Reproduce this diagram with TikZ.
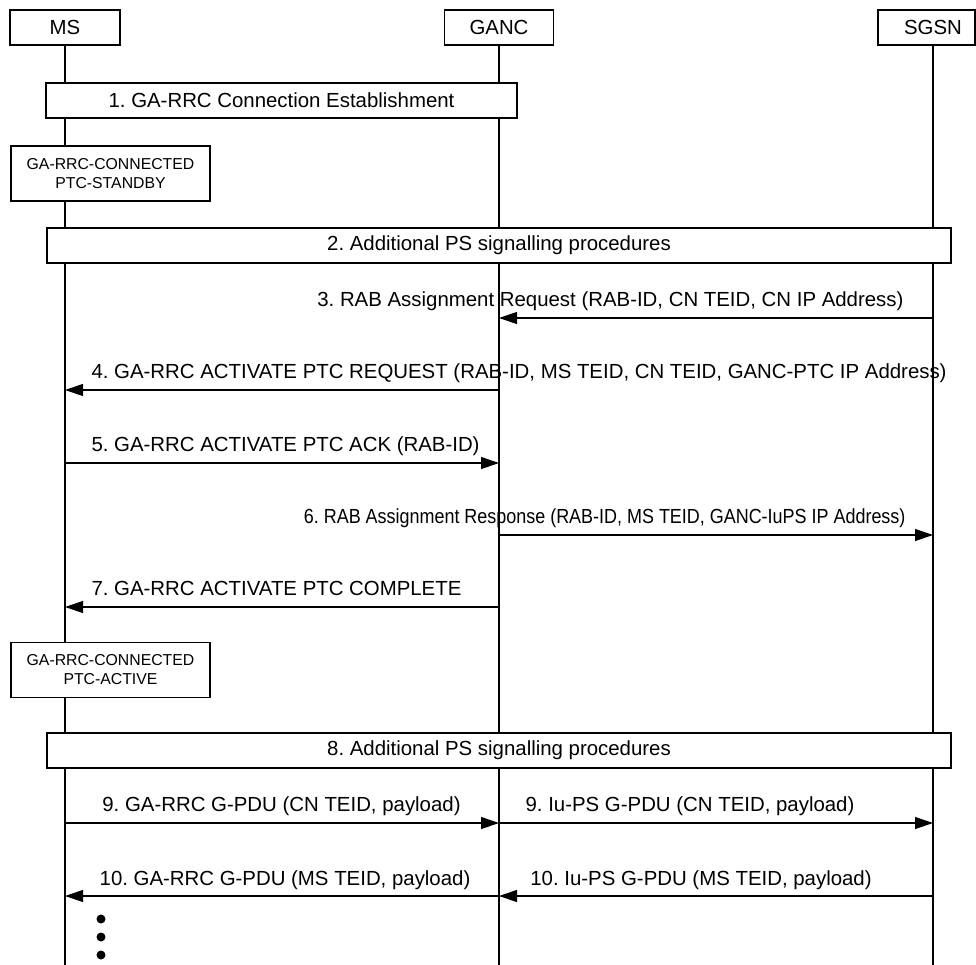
\documentclass[tikz,border=0pt]{standalone}
\usepackage{graphicx}
\usepackage{fontspec}
\setmainfont{Liberation Sans}
\usetikzlibrary{arrows.meta}

\begin{document}
\frenchspacing
\begin{tikzpicture}[x=1pt, y=-1pt, line width=1.1pt,
    every node/.style={font=\fontsize{20.4}{23}\selectfont, inner sep=0pt},
    entity/.style={draw, fill=white, minimum width=110pt, minimum height=35pt},
    procbox/.style={draw, fill=white, minimum width=904pt, minimum height=35pt},
    statebox/.style={draw, fill=white, align=center, minimum width=199pt, minimum height=55pt,
        font=\fontsize{15.8}{19}\selectfont},
    msg/.style={-{Triangle[length=18pt, width=12pt]}},
    lbl/.style={anchor=base}]
    \useasboundingbox (0,0) rectangle (976,965);
    % Entities
    \node[entity] (ms) at (65,27.5) {MS};
    \node[entity, minimum width=109pt] (ganc) at (499,27.5) {GANC};
    \node[entity, minimum width=97pt] (sgsn) at (926.5,27.5) {};
    \node (sgsntxt) at (933,27.5) {SGSN};
    \coordinate (sgsnl) at (933,45);
    \coordinate (end) at (0,965);
    % Lifelines
    \draw (ms.south) -- (ms.south |- end);
    \draw (ganc.south) -- (ganc.south |- end);
    \draw (sgsnl) -- (sgsnl |- end);
    % Procedures and states
    \node[procbox, minimum width=471pt] (est) at (281.5,100.5) {1. GA-RRC Connection Establishment};
    \node[statebox] (standby) at (110.5,173.5) {GA-RRC-CONNECTED\\PTC-STANDBY};
    \node[procbox] (addps1) at (499,245.5) {2. Additional PS signalling procedures};
    \node[statebox] (active) at (110.5,670) {GA-RRC-CONNECTED\\PTC-ACTIVE};
    \node[procbox] (addps2) at (499,750.5) {8. Additional PS signalling procedures};
    % Messages
    \coordinate (m3) at (0,318);
    \draw[msg] (sgsnl |- m3) -- (ganc |- m3);
    \node[lbl, anchor=base east] (l3) at (904,306) {3. RAB Assignment Request (RAB-ID, CN TEID, CN IP Address)};
    \coordinate (m4) at (0,390);
    \draw[msg] (ganc |- m4) -- (ms |- m4);
    \node[lbl, anchor=base west] (l4) at (91,378) {4. GA-RRC ACTIVATE PTC REQUEST (RAB-ID, MS TEID, CN TEID, GANC-PTC IP Address)};
    \coordinate (m5) at (0,463);
    \draw[msg] (ms |- m5) -- (ganc |- m5);
    \node[lbl, anchor=base west] (l5) at (91,451) {5. GA-RRC ACTIVATE PTC ACK (RAB-ID)};
    \coordinate (m6) at (0,535);
    \draw[msg] (ganc |- m6) -- (sgsnl |- m6);
    \node[lbl, anchor=base east] (l6) at (906,523) {\scalebox{0.88}[1]{6. RAB Assignment Response (RAB-ID, MS TEID, GANC-IuPS IP Address)}};
    \coordinate (m7) at (0,607);
    \draw[msg] (ganc |- m7) -- (ms |- m7);
    \node[lbl, anchor=base west] (l7) at (91,595) {7. GA-RRC ACTIVATE PTC COMPLETE};
    % User data
    \coordinate (m9) at (0,823);
    \draw[msg] (ms |- m9) -- (ganc |- m9);
    \draw[msg] (ganc |- m9) -- (sgsnl |- m9);
    \node[lbl] (l9a) at (281.5,811) {9. GA-RRC G-PDU (CN TEID, payload)};
    \node[lbl] (l9b) at (690,811) {9. Iu-PS G-PDU (CN TEID, payload)};
    \coordinate (m10) at (0,896);
    \draw[msg] (sgsnl |- m10) -- (ganc |- m10);
    \draw[msg] (ganc |- m10) -- (ms |- m10);
    \node[lbl] (l10a) at (285,885) {10. GA-RRC G-PDU (MS TEID, payload)};
    \node[lbl] (l10b) at (701,885) {10. Iu-PS G-PDU (MS TEID, payload)};
    % Continuation
    \fill (101,919) circle (4.5pt);
    \fill (101,937) circle (4.5pt);
    \fill (101,955) circle (4.5pt);
\end{tikzpicture}
\end{document}
